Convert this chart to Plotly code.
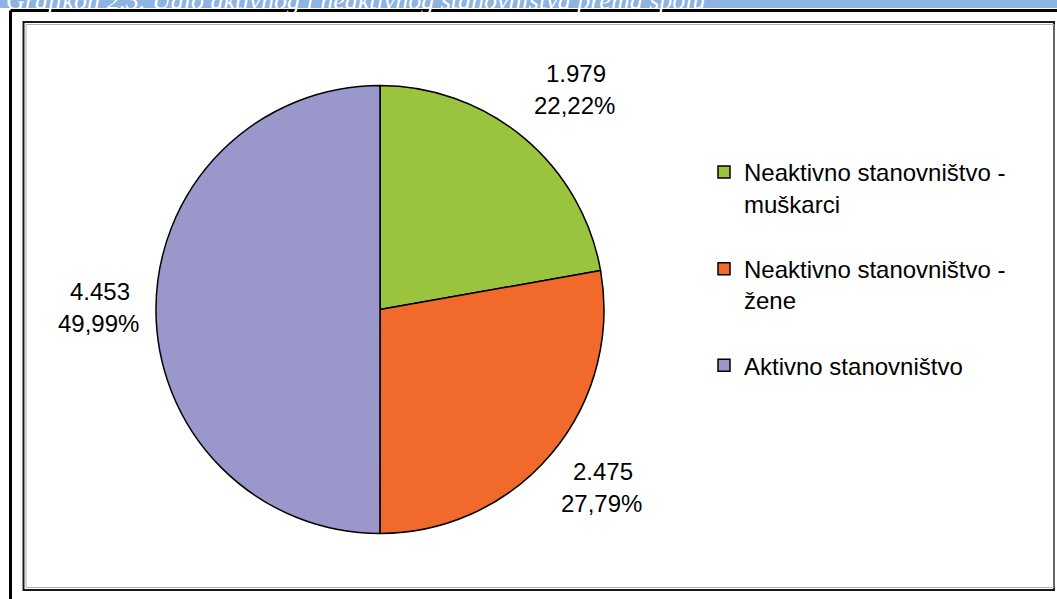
import plotly.graph_objects as go

W, H = 1057, 599

# Chart data
labels = ['Neaktivno stanovništvo -<br>muškarci',
          'Neaktivno stanovništvo -<br>žene',
          'Aktivno stanovništvo']
values = [1979, 2475, 4453]
colors = ['#9BC43E', '#F26A2B', '#9A98CB']
caption = 'Grafikon 2.3. Udio aktivnog i neaktivnog stanovništva prema spolu'

# label anchor points in pixels (value line centre)
label_pos = [(576, 74), (603, 471), (100, 291)]


def px(x, y):
    return x / W, 1 - y / H


def fmt_int(v):
    return '{:,}'.format(v).replace(',', '.')


def fmt_pct(v, total):
    return '{:.2f}%'.format(100 * v / total).replace('.', ',')


def main():
    total = sum(values)

    x0, y1 = px(156, 85)
    x1, y0 = px(604, 534)

    # extra blank line after each legend entry for the wider spacing
    legend_labels = [lab + '<br> ' for lab in labels[:-1]] + [labels[-1]]

    fig = go.Figure(go.Pie(
        labels=legend_labels,
        values=values,
        marker=dict(colors=colors, line=dict(color='black', width=1.5)),
        sort=False,
        direction='clockwise',
        rotation=0,
        textinfo='none',
        hoverinfo='value+percent',
        domain=dict(x=[x0, x1], y=[y0, y1]),
    ))

    font = dict(family='Liberation Sans, Arial', size=24, color='black')
    annotations = []
    for v, (lx, ly) in zip(values, label_pos):
        ax, ay = px(lx, ly)
        annotations.append(dict(x=ax, y=ay, xref='paper', yref='paper', text=fmt_int(v),
                                showarrow=False, font=font, xanchor='center', yanchor='middle'))
        ax, ay = px(lx - 2, ly + 32)
        annotations.append(dict(x=ax, y=ay, xref='paper', yref='paper', text=fmt_pct(v, total),
                                showarrow=False, font=font, xanchor='center', yanchor='middle'))

    # caption strip at the very top, cut off by the page edge (as in the source image)
    cx, cy = px(4, 0)
    annotations.append(dict(x=cx, y=cy, xref='paper', yref='paper', text='<i>' + caption + '</i>',
                            showarrow=False, xanchor='left', yanchor='middle',
                            font=dict(family='Liberation Serif', size=26, color='white')))

    shapes = []
    # blue banner
    bx0, by1 = px(0, 0)
    bx1, by0 = px(W, 8)
    shapes.append(dict(type='rect', xref='paper', yref='paper', x0=bx0, x1=bx1, y0=by0, y1=by1,
                       fillcolor='#8DB3E2', line=dict(width=0), layer='below'))
    # outer heavy frame (top and left)
    ox, oy = px(10.5, 10.5)
    shapes.append(dict(type='line', xref='paper', yref='paper', x0=ox, x1=1, y0=oy, y1=oy,
                       line=dict(color='black', width=3)))
    shapes.append(dict(type='line', xref='paper', yref='paper', x0=ox, x1=ox, y0=0, y1=oy,
                       line=dict(color='black', width=3)))
    # inner chart frame
    ix0, iy1 = px(23.5, 22)
    ix1, iy0 = px(1054, 590)
    shapes.append(dict(type='rect', xref='paper', yref='paper', x0=ix0, x1=ix1, y0=iy0, y1=iy1,
                       line=dict(color='#1a1a1a', width=2)))
    gx0, gy1 = px(26, 24.5)
    gx1, gy0 = px(1054, 587.5)
    shapes.append(dict(type='rect', xref='paper', yref='paper', x0=gx0, x1=gx1, y0=gy0, y1=gy1,
                       line=dict(color='#b0b0b0', width=1)))

    lx, ly = px(704, 150)
    fig.update_layout(
        width=W, height=H,
        margin=dict(l=0, r=0, t=0, b=0),
        paper_bgcolor='white',
        plot_bgcolor='white',
        showlegend=True,
        legend=dict(x=lx, y=ly, xanchor='left', yanchor='top', valign='top',
                    font=dict(family='Liberation Sans, Arial', size=24, color='black'),
                    bgcolor='rgba(0,0,0,0)', traceorder='normal'),
        annotations=annotations,
        shapes=shapes,
    )

    # the page's default body margin would push the chart off its spot
    fig.write_html('out.html', config={'displayModeBar': False},
                   post_script="document.body.style.margin='0';document.body.style.overflow='hidden';")


if __name__ == '__main__':
    main()
